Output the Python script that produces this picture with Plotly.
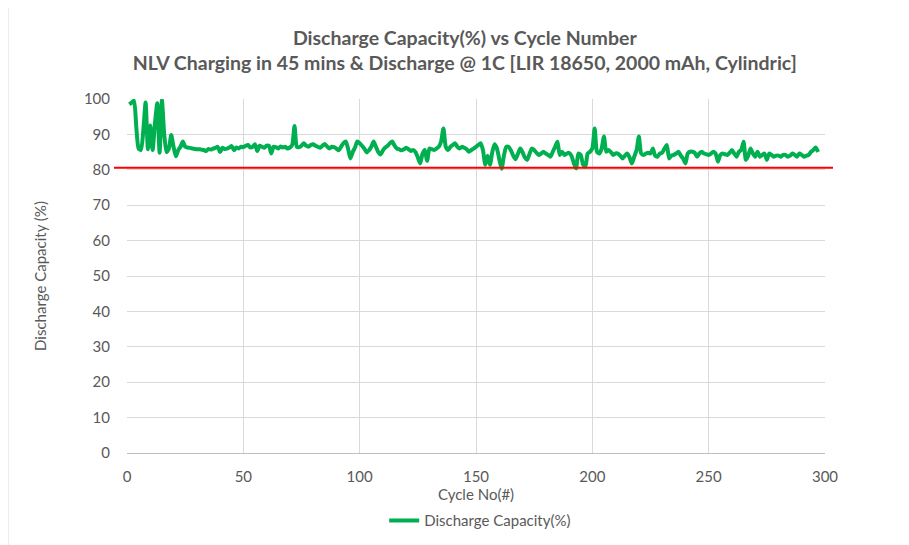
import plotly.graph_objects as go

cycles = list(range(1, 298))
capacity = [
    98.5, 99.0, 99.5, 92.0, 86.0, 85.6, 91.0, 99.0, 85.8, 92.5,
    85.6, 93.0, 98.8, 84.8, 99.7, 90.0, 85.0, 86.0, 89.8, 86.5,
    83.8, 85.5, 86.5, 88.0, 86.5, 86.3, 86.2, 86.0, 85.9, 85.8,
    85.8, 85.7, 85.6, 85.3, 85.9, 85.7, 86.0, 86.2, 86.5, 85.0,
    86.2, 85.9, 86.0, 86.3, 86.7, 85.5, 86.3, 86.0, 86.5, 86.4,
    86.8, 87.0, 86.3, 86.5, 87.2, 85.3, 86.8, 86.5, 86.2, 86.8,
    86.8, 84.6, 86.5, 86.4, 86.0, 86.6, 86.3, 86.5, 86.0, 86.3,
    87.0, 92.4, 86.5, 86.4, 86.8, 87.5, 86.8, 86.5, 87.0, 87.2,
    86.8, 86.5, 86.2, 86.8, 87.3, 86.6, 86.0, 86.5, 86.4, 86.0,
    85.5, 86.5, 87.5, 88.0, 86.0, 83.2, 85.0, 86.3, 88.0, 87.5,
    86.8, 86.0, 84.9, 85.5, 86.5, 88.0, 86.5, 85.0, 84.3, 85.5,
    86.3, 86.8, 87.5, 88.0, 86.8, 86.0, 85.8, 85.5, 85.8, 86.2,
    85.8, 85.3, 85.6, 85.0, 83.5, 81.8, 84.5, 85.6, 82.5, 86.0,
    85.8, 85.6, 86.0, 86.5, 88.0, 91.7, 86.5, 85.6, 86.5, 87.0,
    87.5, 86.5, 86.0, 86.5, 86.2, 85.8, 85.1, 85.6, 86.0, 86.5,
    87.0, 87.5, 85.5, 81.4, 84.0, 81.4, 85.0, 87.2, 86.0, 83.0,
    80.3, 84.0, 86.5, 86.5, 85.5, 84.0, 83.0, 84.5, 86.0, 85.0,
    83.5, 82.8, 84.5, 86.0, 85.6, 84.8, 84.2, 84.6, 85.1, 84.6,
    84.2, 83.7, 85.1, 86.5, 87.9, 84.2, 85.1, 84.2, 84.6, 84.8,
    84.0, 82.0, 80.4, 84.6, 84.2, 81.5, 80.9, 84.6, 85.1, 86.0,
    91.7, 85.1, 84.6, 86.0, 89.4, 85.1, 85.6, 85.0, 84.2, 84.6,
    84.6, 84.0, 83.2, 84.0, 84.6, 83.5, 81.8, 83.7, 85.5, 89.4,
    84.6, 84.2, 84.6, 84.8, 84.6, 86.0, 84.0, 83.7, 84.6, 84.8,
    86.0, 87.0, 83.2, 84.0, 84.2, 84.6, 85.1, 84.0, 83.2, 81.8,
    84.6, 85.1, 85.1, 84.8, 83.7, 84.6, 85.1, 84.6, 84.4, 84.2,
    84.6, 85.1, 84.6, 82.3, 84.2, 84.6, 84.4, 84.2, 84.8, 85.6,
    84.6, 83.7, 85.1, 85.6, 87.9, 82.8, 84.0, 86.0, 84.6, 83.7,
    85.1, 83.7, 84.2, 84.6, 82.8, 84.6, 84.2, 83.7, 84.0, 84.0,
    83.7, 84.2, 84.2, 83.7, 84.0, 84.6, 84.2, 83.7, 84.6, 84.2,
    83.7, 84.0, 84.2, 85.1, 85.6, 86.3, 85.0,
]
threshold = 80.6

x_ticks = [0, 50, 100, 150, 200, 250, 300]
y_ticks = [0, 10, 20, 30, 40, 50, 60, 70, 80, 90, 100]

title_text = ("<b>Discharge Capacity(%) vs Cycle Number</b><br>"
              "<b>NLV Charging in 45 mins &amp; Discharge @ 1C [LIR 18650, 2000 mAh, Cylindric]</b>")

fig = go.Figure()
fig.add_trace(go.Scatter(
    x=cycles, y=capacity, mode="lines", name="Discharge Capacity(%)",
    line=dict(color="#00b050", width=4, shape="spline", smoothing=0.6),
))

fig.add_shape(type="line", xref="paper", yref="y",
              x0=-0.0186, x1=1.0115, y0=threshold, y1=threshold,
              line=dict(color="#ff0000", width=2))

# chart-area border on the left edge
fig.add_shape(type="line", xref="paper", yref="paper",
              x0=-0.1705, x1=-0.1705, y0=-0.3, y1=1.3,
              line=dict(color="#d9d9d9", width=1))

fig.update_layout(
    width=901, height=537,
    paper_bgcolor="white", plot_bgcolor="white",
    margin=dict(l=119, r=84, t=91, b=92, autoexpand=False),
    font=dict(family="Lato, Open Sans, sans-serif", color="#595959", size=15),
    title=dict(text=title_text, x=0.507, xanchor="center", y=0.931, yanchor="top",
               font=dict(family="Lato, Open Sans, sans-serif", size=19.5, color="#595959")),
    showlegend=True,
    legend=dict(orientation="h", x=0.506, xanchor="center", y=-0.145, yanchor="top",
                font=dict(size=15, color="#595959")),
    xaxis=dict(range=[0, 300], tickvals=x_ticks, showgrid=True, gridcolor="#d9d9d9",
               gridwidth=1, zeroline=False, showline=True, linecolor="#bfbfbf", linewidth=1,
               ticks="outside", ticklen=10, tickcolor="rgba(0,0,0,0)", automargin=False,
               title=dict(text="Cycle No(#)", standoff=0, font=dict(size=15)),
               tickfont=dict(size=15)),
    yaxis=dict(range=[0, 100], tickvals=y_ticks, showgrid=True, gridcolor="#d9d9d9",
               gridwidth=1, zeroline=False, showline=False,
               ticks="outside", ticklen=13, tickcolor="rgba(0,0,0,0)", automargin=False,
               title=dict(text="Discharge Capacity (%)", standoff=33, font=dict(size=15)),
               tickfont=dict(size=15)),
)

fig.write_html("out.html")
